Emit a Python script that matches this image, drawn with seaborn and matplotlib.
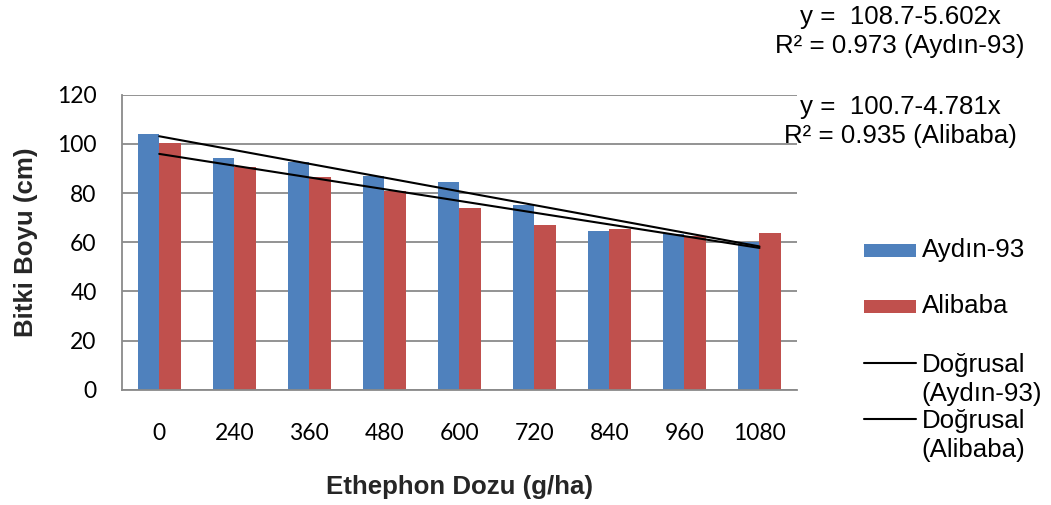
import matplotlib
matplotlib.use("Agg")
import matplotlib.pyplot as plt
from matplotlib.lines import Line2D
from matplotlib.patches import Rectangle
import numpy as np
import pandas as pd
import seaborn as sns

# Plant height (cm) by ethephon dose for two barley cultivars
doses = ["0", "240", "360", "480", "600", "720", "840", "960", "1080"]
aydin93 = [103.9, 94.3, 92.8, 86.9, 84.4, 75.0, 64.7, 63.3, 60.1]
alibaba = [100.4, 90.6, 86.7, 80.7, 73.9, 67.1, 65.2, 62.7, 63.9]
cultivars = ["Aydın-93", "Alibaba"]

# Linear trend coefficients (y = a - b*x, x = 1..9)
trend_aydin = (108.7, 5.602)
trend_alibaba = (100.7, 4.781)

blue = "#4F81BD"
red = "#C0504D"
grid_grey = "#8A8A8A"

sns.set_theme(style="white")
plt.rcParams["font.family"] = ["Liberation Sans", "DejaVu Sans"]

W, H = 1051, 505
fig = plt.figure(figsize=(W / 100, H / 100), dpi=100)
left, right, top, bottom = 121.7, 797.0, 94.7, 389.7
ax = fig.add_axes([left / W, 1 - bottom / H, (right - left) / W, (bottom - top) / H])

df = pd.DataFrame({
    "dose": doses * 2,
    "height": aydin93 + alibaba,
    "cultivar": [cultivars[0]] * len(doses) + [cultivars[1]] * len(doses),
})
sns.barplot(data=df, x="dose", y="height", hue="cultivar", order=doses,
            hue_order=cultivars, palette=[blue, red], width=0.57, gap=0,
            linewidth=0, saturation=1, errorbar=None, legend=False, ax=ax)

idx = np.arange(len(doses))
for a, b in (trend_aydin, trend_alibaba):
    ax.plot(idx, a - b * (idx + 1), color="black", lw=1.5, zorder=5)

ax.set_xlim(-0.5, len(doses) - 0.5)
ax.set_ylim(0, 120)
ax.set_yticks(range(0, 121, 20))
ax.yaxis.grid(True, color=grid_grey, lw=1.3)
ax.set_axisbelow(True)
for s in ("top", "right"):
    ax.spines[s].set_visible(False)
for s in ("left", "bottom"):
    ax.spines[s].set_color(grid_grey)
    ax.spines[s].set_linewidth(1.3)

tick_font = {"family": "Lato", "size": 16.5}
ax.set_xticks(idx)
ax.set_xticklabels(doses, fontdict=tick_font)
ax.set_yticklabels([str(v) for v in range(0, 121, 20)], fontdict=tick_font)
ax.tick_params(axis="x", length=0, pad=24, colors="black")
ax.tick_params(axis="y", length=6, width=1.3, color=grid_grey, pad=12, labelcolor="black")

ax.set_xlabel("Ethephon Dozu (g/ha)", fontsize=18.6, fontweight="bold", labelpad=22)
ax.set_ylabel("Bitki Boyu (cm)", fontsize=18.6, fontweight="bold", labelpad=14)

def fx(x):
    return x / W

def fy(y):
    return 1 - y / H

# Trend equations
txt = dict(fontsize=18.6, ha="center", va="center", color="black")
fig.text(fx(900), fy(17), "y =  108.7-5.602x", **txt)
fig.text(fx(900), fy(46), "R² = 0.973 (Aydın-93)", **txt)
fig.text(fx(900), fy(107), "y =  100.7-4.781x", **txt)
fig.text(fx(900), fy(136), "R² = 0.935 (Alibaba)", **txt)

# Legend
lx0, lx1, tx = 864, 915.7, 921.7
leg = dict(fontsize=18.6, ha="left", va="center", color="black")
for yc, col, label in ((250, blue, "Aydın-93"), (306, red, "Alibaba")):
    fig.add_artist(Rectangle((fx(lx0), fy(yc + 6.5)), fx(lx1 - lx0), 13 / H,
                             transform=fig.transFigure, color=col, lw=0))
    fig.text(fx(tx), fy(yc), label, **leg)
for yc, label in ((363, "Doğrusal\n(Aydın-93)"), (419, "Doğrusal\n(Alibaba)")):
    fig.add_artist(Line2D([fx(lx0), fx(lx1)], [fy(yc), fy(yc)],
                          transform=fig.transFigure, color="black", lw=1.5))
    l1, l2 = label.split("\n")
    fig.text(fx(tx), fy(yc + 2), l1, **leg)
    fig.text(fx(tx), fy(yc + 31), l2, **leg)

fig.savefig("out.png", dpi=100)
